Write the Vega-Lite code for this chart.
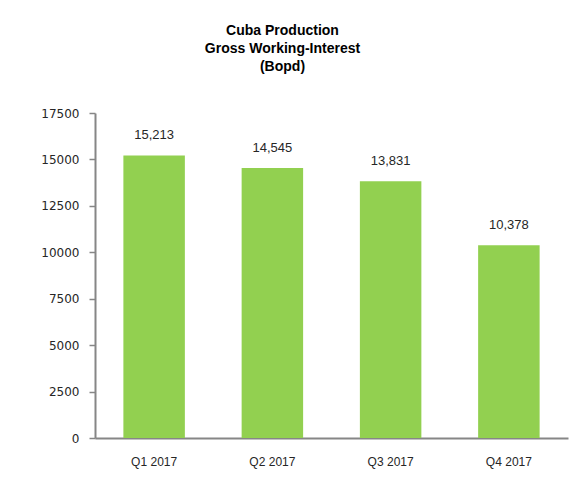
{
  "$schema": "https://vega.github.io/schema/vega-lite/v6.json",
  "autosize": "none",
  "width": 473,
  "height": 325,
  "padding": {"left": 95, "top": 113, "right": 12, "bottom": 42},
  "background": "white",
  "title": {
    "text": ["Cuba Production", "Gross Working-Interest", "(Bopd)"],
    "anchor": "middle",
    "frame": "group",
    "dx": -49,
    "offset": 33,
    "font": "Liberation Sans",
    "fontSize": 14,
    "fontWeight": "bold",
    "color": "#000000",
    "lineHeight": 18
  },
  "data": {
    "values": [
      {"quarter": "Q1 2017", "bopd": 15213},
      {"quarter": "Q2 2017", "bopd": 14545},
      {"quarter": "Q3 2017", "bopd": 13831},
      {"quarter": "Q4 2017", "bopd": 10378}
    ]
  },
  "encoding": {
    "x": {
      "field": "quarter",
      "type": "nominal",
      "sort": null,
      "scale": {"paddingInner": 0.48, "paddingOuter": 0.24},
      "axis": {
        "title": null,
        "labelAngle": 0,
        "ticks": false,
        "domainColor": "#868686",
        "domainWidth": 2,
        "labelFont": "Liberation Sans",
        "labelFontSize": 12,
        "labelColor": "#262626",
        "labelPadding": 18,
        "grid": false
      }
    },
    "y": {
      "field": "bopd",
      "type": "quantitative",
      "scale": {"domain": [0, 17500], "nice": false},
      "axis": {
        "title": null,
        "values": [0, 2500, 5000, 7500, 10000, 12500, 15000, 17500],
        "format": "d",
        "grid": false,
        "domainColor": "#868686",
        "domainWidth": 2,
        "tickColor": "#868686",
        "tickSize": 6,
        "tickWidth": 1.5,
        "labelFont": "DejaVu Sans",
        "labelFontSize": 12,
        "labelColor": "#262626",
        "labelPadding": 10
      }
    }
  },
  "layer": [
    {"mark": {"type": "bar", "color": "#92D050"}},
    {
      "mark": {
        "type": "text",
        "baseline": "bottom",
        "dy": -13,
        "font": "Liberation Sans",
        "fontSize": 13,
        "color": "#262626"
      },
      "encoding": {"text": {"field": "bopd", "type": "quantitative", "format": ","}}
    }
  ],
  "config": {"view": {"stroke": null}}
}
